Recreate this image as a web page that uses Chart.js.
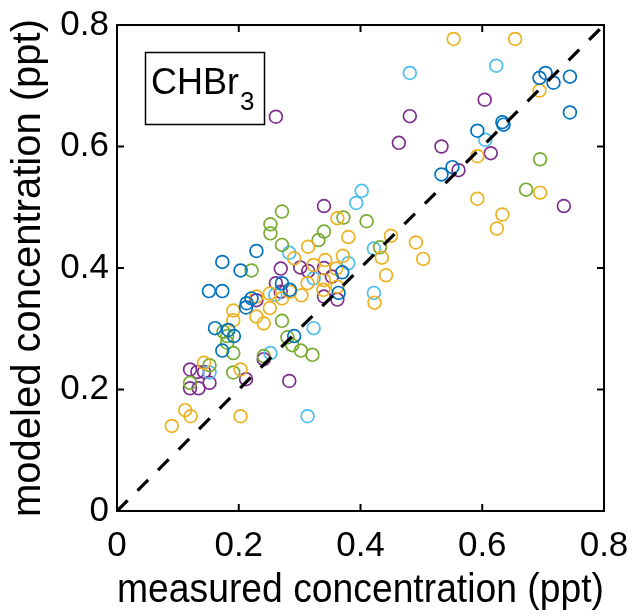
<!DOCTYPE html>
<html>
<head>
<meta charset="utf-8">
<script src="https://cdn.jsdelivr.net/npm/chart.js@4.4.1/dist/chart.umd.min.js"></script>
<style>
  html, body { margin: 0; padding: 0; background: #fff; }
</style>
</head>
<body>
<canvas id="chbr3Chart" width="633" height="616"></canvas>
<script>
// axis ticks
const tickValues = [0, 0.2, 0.4, 0.6, 0.8];
const tickLabels = ['0', '0.2', '0.4', '0.6', '0.8'];

// measured (x) vs modeled (y), one pair of arrays per colour group
const blueMeasured = [0.694, 0.704, 0.717, 0.744, 0.744, 0.633, 0.635, 0.592, 0.551, 0.533, 0.229, 0.173, 0.203, 0.151, 0.173, 0.213, 0.212, 0.221, 0.161, 0.183, 0.192, 0.173, 0.291, 0.370, 0.364, 0.271, 0.284];
const blueModeled  = [0.713, 0.721, 0.705, 0.715, 0.656, 0.640, 0.636, 0.626, 0.566, 0.554, 0.428, 0.410, 0.396, 0.362, 0.362, 0.342, 0.335, 0.350, 0.301, 0.298, 0.288, 0.264, 0.288, 0.393, 0.359, 0.375, 0.364];

const yellowMeasured = [0.553, 0.654, 0.694, 0.592, 0.695, 0.592, 0.633, 0.624, 0.491, 0.503, 0.450, 0.442, 0.435, 0.423, 0.362, 0.380, 0.314, 0.291, 0.371, 0.342, 0.323, 0.360, 0.362, 0.313, 0.340, 0.303, 0.339, 0.229, 0.191, 0.191, 0.229, 0.241, 0.251, 0.271, 0.284, 0.251, 0.203, 0.143, 0.112, 0.121, 0.203, 0.090];
const yellowModeled  = [0.777, 0.777, 0.692, 0.584, 0.524, 0.514, 0.488, 0.465, 0.442, 0.415, 0.453, 0.388, 0.417, 0.343, 0.482, 0.451, 0.435, 0.416, 0.420, 0.413, 0.405, 0.399, 0.369, 0.375, 0.380, 0.355, 0.364, 0.353, 0.330, 0.314, 0.320, 0.309, 0.358, 0.350, 0.361, 0.334, 0.233, 0.244, 0.166, 0.156, 0.156, 0.140];

const purpleMeasured = [0.261, 0.604, 0.481, 0.463, 0.533, 0.614, 0.561, 0.734, 0.340, 0.269, 0.301, 0.314, 0.340, 0.353, 0.340, 0.362, 0.261, 0.269, 0.229, 0.241, 0.212, 0.283, 0.120, 0.132, 0.143, 0.152, 0.120, 0.134];
const purpleModeled  = [0.649, 0.677, 0.650, 0.606, 0.600, 0.589, 0.561, 0.502, 0.502, 0.399, 0.401, 0.395, 0.400, 0.386, 0.353, 0.348, 0.375, 0.361, 0.347, 0.250, 0.217, 0.214, 0.233, 0.229, 0.229, 0.211, 0.202, 0.202];

const greenMeasured = [0.695, 0.672, 0.410, 0.432, 0.271, 0.252, 0.252, 0.372, 0.340, 0.331, 0.271, 0.221, 0.271, 0.175, 0.181, 0.181, 0.191, 0.280, 0.288, 0.302, 0.321, 0.241, 0.191, 0.152, 0.120];
const greenModeled  = [0.579, 0.529, 0.477, 0.434, 0.493, 0.472, 0.457, 0.483, 0.460, 0.446, 0.438, 0.396, 0.313, 0.295, 0.288, 0.277, 0.260, 0.286, 0.273, 0.264, 0.257, 0.255, 0.228, 0.240, 0.211];

const cyanMeasured = [0.481, 0.623, 0.605, 0.402, 0.393, 0.422, 0.422, 0.283, 0.380, 0.323, 0.260, 0.323, 0.252, 0.152, 0.313];
const cyanModeled  = [0.721, 0.733, 0.611, 0.527, 0.507, 0.432, 0.359, 0.425, 0.408, 0.383, 0.356, 0.301, 0.260, 0.228, 0.156];

// 1:1 line
const oneToOne = [0, 0.8];

const toPoints = (xs, ys) => xs.map((x, i) => ({ x: x, y: ys[i] }));

function scatterSet(label, xs, ys, color) {
    return {
        type: 'scatter',
        label: label,
        data: toPoints(xs, ys),
        borderColor: color,
        backgroundColor: 'rgba(0,0,0,0)',
        pointRadius: 6.4,
        pointBorderWidth: 1.7,
        pointHoverRadius: 6.4,
        order: 1
    };
}

const fontFamily = '"Liberation Sans", Arial, Helvetica, sans-serif';

// box around the axes, inward tick marks and the CHBr3 label
const matlabAxes = {
    id: 'matlabAxes',
    afterDatasetsDraw(chart) {
        const ctx = chart.ctx;
        const xs = chart.scales.x, ys = chart.scales.y;
        const a = chart.chartArea;
        ctx.save();
        ctx.strokeStyle = '#000';
        ctx.lineWidth = 2;
        ctx.beginPath();
        tickValues.forEach(v => {
            const px = xs.getPixelForValue(v);
            ctx.moveTo(px, a.bottom); ctx.lineTo(px, a.bottom - 7);
            ctx.moveTo(px, a.top); ctx.lineTo(px, a.top + 7);
            const py = ys.getPixelForValue(v);
            ctx.moveTo(a.left, py); ctx.lineTo(a.left + 7, py);
            ctx.moveTo(a.right, py); ctx.lineTo(a.right - 7, py);
        });
        ctx.stroke();
        ctx.strokeRect(a.left, a.top, a.right - a.left, a.bottom - a.top);

        // text box
        ctx.lineWidth = 1.5;
        ctx.strokeRect(145.5, 52.5, 119, 72);
        ctx.fillStyle = '#000';
        ctx.textBaseline = 'alphabetic';
        ctx.textAlign = 'left';
        ctx.font = '36px ' + fontFamily;
        ctx.fillText('CHBr', 151, 94);
        const w = ctx.measureText('CHBr').width;
        ctx.font = '26px ' + fontFamily;
        ctx.fillText('3', 151 + w + 1, 110);
        ctx.restore();
    }
};

const ctx = document.getElementById('chbr3Chart').getContext('2d');
const chbr3Chart = new Chart(ctx, {
    data: {
        datasets: [
            {
                type: 'line',
                label: '1:1',
                data: toPoints(oneToOne, oneToOne),
                borderColor: '#000',
                borderWidth: 3.2,
                borderDash: [15, 14],
                pointRadius: 0,
                fill: false,
                order: 0
            },
            scatterSet('blue', blueMeasured, blueModeled, '#0072BD'),
            scatterSet('yellow', yellowMeasured, yellowModeled, '#EDB120'),
            scatterSet('green', greenMeasured, greenModeled, '#77AC30'),
            scatterSet('cyan', cyanMeasured, cyanModeled, '#4DBEEE'),
            scatterSet('purple', purpleMeasured, purpleModeled, '#7E2F8E')
        ]
    },
    options: {
        responsive: false,
        animation: false,
        layout: {
            padding: { top: 25, right: 29, left: 0, bottom: 0 }
        },
        plugins: {
            legend: { display: false },
            tooltip: { enabled: false }
        },
        scales: {
            x: {
                type: 'linear',
                min: 0,
                max: 0.8,
                afterBuildTicks: s => { s.ticks = tickValues.map(v => ({ value: v })); },
                afterFit: s => { s.height = 105; s.paddingLeft = 0; s.paddingRight = 0; },
                grid: { display: false, drawTicks: false },
                border: { display: false },
                ticks: {
                    color: '#000',
                    padding: 14,
                    maxRotation: 0,
                    font: { family: fontFamily, size: 35 },
                    callback: (v, i) => tickLabels[i]
                },
                title: {
                    display: true,
                    text: 'measured concentration (ppt)',
                    color: '#000',
                    font: { family: fontFamily, size: 40 },
                    padding: { top: 0, bottom: 1 }
                }
            },
            y: {
                type: 'linear',
                min: 0,
                max: 0.8,
                afterBuildTicks: s => { s.ticks = tickValues.map(v => ({ value: v })); },
                afterFit: s => { s.width = 117; s.paddingTop = 0; s.paddingBottom = 0; },
                grid: { display: false, drawTicks: false },
                border: { display: false },
                ticks: {
                    color: '#000',
                    padding: 8,
                    font: { family: fontFamily, size: 35 },
                    callback: (v, i) => tickLabels[i]
                },
                title: {
                    display: true,
                    text: 'modeled concentration (ppt)',
                    color: '#000',
                    font: { family: fontFamily, size: 40 },
                    padding: { top: 5, bottom: 0 }
                }
            }
        }
    },
    plugins: [matlabAxes]
});
</script>
</body>
</html>
